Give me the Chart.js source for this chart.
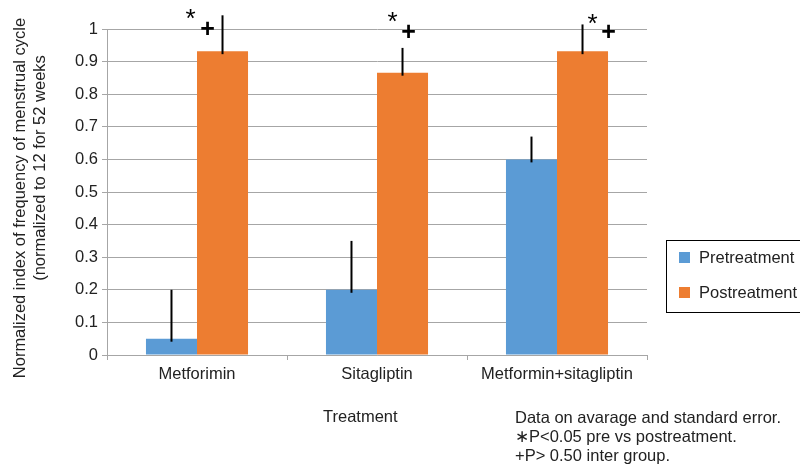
<!DOCTYPE html>
<html>
<head>
<meta charset="utf-8">
<script src="https://cdn.jsdelivr.net/npm/chart.js@4"></script>
<style>
  html, body { margin: 0; padding: 0; background: #fff; }
  #wrap { position: relative; width: 800px; height: 465px; }
</style>
</head>
<body>
<div id="wrap"><canvas id="chart" width="800" height="465"></canvas></div>
<script>
"use strict";

const categories = ["Metforimin", "Sitagliptin", "Metformin+sitagliptin"];
const preValues = [0.05, 0.2, 0.6];
const postValues = [0.932, 0.866, 0.932];
const preErrors = [0.15, 0.15, 0.07];
const postErrors = [0.11, 0.076, 0.082];
const yTicks = [0, 0.1, 0.2, 0.3, 0.4, 0.5, 0.6, 0.7, 0.8, 0.9, 1];
const seriesNames = ["Pretreatment", "Postreatment"];
const yTitle = ["Normalized index of frequency of menstrual cycle", "(normalized to 12 for 52 weeks"];
const xTitle = "Treatment";
const notes = ["Data on avarage and standard error.", "\u2217P<0.05 pre vs postreatment.", "+P> 0.50 inter group."];

const BLUE = "#5b9bd5";
const ORANGE = "#ed7d31";
const GRID = "#a6a6a6";
const TEXT = "#222";
const FONT = "'Liberation Sans', Arial, sans-serif";

// star / plus offsets from the post bar centre, per group
const markOffsets = [
  { star: -32, starY: -17, plus: -15, plusY: 1 },
  { star: -10, starY: -14, plus: 6, plusY: 4 },
  { star: 10, starY: -12, plus: 26, plusY: 4 },
];

const errorBars = {
  id: "errorBars",
  afterDatasetsDraw(chart) {
    const ctx = chart.ctx;
    const y = chart.scales.y;
    const errs = [preErrors, postErrors];
    ctx.save();
    ctx.strokeStyle = "#000";
    ctx.lineWidth = 2;
    chart.data.datasets.forEach((ds, di) => {
      chart.getDatasetMeta(di).data.forEach((bar, i) => {
        const v = ds.data[i];
        ctx.beginPath();
        ctx.moveTo(bar.x, y.getPixelForValue(v) + 3);
        ctx.lineTo(bar.x, y.getPixelForValue(v + errs[di][i]));
        ctx.stroke();
      });
    });

    // significance marks over the postreatment bars
    const area = chart.chartArea;
    chart.getDatasetMeta(1).data.forEach((bar, i) => {
      const o = markOffsets[i];
      ctx.fillStyle = "#000";
      ctx.textAlign = "center";
      ctx.textBaseline = "middle";
      ctx.font = "26px " + FONT;
      ctx.fillText("*", bar.x + o.star, area.top + o.starY + 8);
      ctx.font = "bold 25px " + FONT;
      ctx.fillText("+", bar.x + o.plus, area.top + o.plusY);
    });
    ctx.restore();
  },
};

const extras = {
  id: "extras",
  afterDraw(chart) {
    const ctx = chart.ctx;
    const area = chart.chartArea;
    ctx.save();
    ctx.fillStyle = TEXT;
    ctx.font = "16.5px " + FONT;

    // y title, two rotated lines
    ctx.textAlign = "center";
    ctx.textBaseline = "middle";
    ctx.save();
    ctx.translate(20, 198);
    ctx.rotate(-Math.PI / 2);
    ctx.fillText(yTitle[0], 0, 0);
    ctx.restore();
    ctx.save();
    ctx.translate(40, 168);
    ctx.rotate(-Math.PI / 2);
    ctx.fillText(yTitle[1], 0, 0);
    ctx.restore();

    // x title and notes
    ctx.textAlign = "left";
    ctx.fillText(xTitle, 323, 417);
    notes.forEach((t, i) => ctx.fillText(t, 515, 418 + i * 19));

    // legend
    const lx = area.right + 19;
    ctx.strokeStyle = "#000";
    ctx.lineWidth = 1;
    ctx.strokeRect(lx + 0.5, 240.5, 200, 72);
    [BLUE, ORANGE].forEach((c, i) => {
      const cy = 257 + i * 35;
      ctx.fillStyle = c;
      ctx.fillRect(lx + 13, cy - 5, 11, 11);
      ctx.fillStyle = TEXT;
      ctx.fillText(seriesNames[i], lx + 33, cy + 1);
    });
    ctx.restore();
  },
};

new Chart(document.getElementById("chart"), {
  type: "bar",
  data: {
    labels: categories,
    datasets: [
      { label: seriesNames[0], data: preValues, backgroundColor: BLUE },
      { label: seriesNames[1], data: postValues, backgroundColor: ORANGE },
    ],
  },
  options: {
    responsive: false,
    animation: false,
    events: [],
    layout: { padding: { top: 29, right: 153, left: 0, bottom: 0 } },
    datasets: { bar: { categoryPercentage: 0.567, barPercentage: 1 } },
    plugins: { legend: { display: false }, tooltip: { enabled: false } },
    scales: {
      x: {
        afterFit: s => { s.height = 110; },
        grid: { offset: true, drawOnChartArea: false, color: GRID, tickLength: 5 },
        border: { color: GRID },
        ticks: { color: TEXT, font: { family: FONT, size: 16.5 }, padding: 5 },
      },
      y: {
        min: 0,
        max: 1,
        afterFit: s => { s.width = 107; },
        afterBuildTicks: s => { s.ticks = yTicks.map(v => ({ value: v })); },
        grid: { color: GRID, tickLength: 5 },
        border: { color: GRID },
        ticks: {
          color: TEXT,
          font: { family: FONT, size: 16.5 },
          padding: 4,
          callback: v => String(v),
        },
      },
    },
  },
  plugins: [errorBars, extras],
});
</script>
</body>
</html>
